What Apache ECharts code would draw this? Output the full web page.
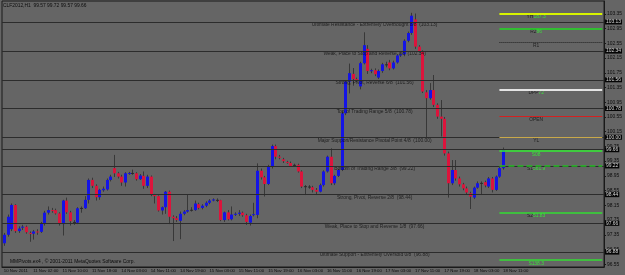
<!DOCTYPE html>
<html>
<head>
<meta charset="utf-8">
<script src="https://cdn.jsdelivr.net/npm/echarts@6/dist/echarts.min.js"></script>
<style>
  html, body { margin: 0; padding: 0; background: #656565; }
  #chart { width: 625px; height: 275px; }
</style>
</head>
<body>
<div id="chart"></div>
<script>
// hourly sessions shown on the chart (day, first hour, last hour)
const sessions = [
  ['10 Nov', 18, 23], ['11 Nov', 0, 22], ['14 Nov', 0, 23], ['15 Nov', 0, 23],
  ['16 Nov', 0, 23], ['17 Nov', 0, 23], ['18 Nov', 0, 11]
];
const tickLabels = [
  '10 Nov 2011', '11 Nov 02:00', '11 Nov 10:00', '11 Nov 18:00', '14 Nov 03:00', '14 Nov 11:00',
  '14 Nov 19:00', '15 Nov 03:00', '15 Nov 11:00', '15 Nov 19:00', '16 Nov 03:00', '16 Nov 11:00',
  '16 Nov 19:00', '17 Nov 03:00', '17 Nov 11:00', '17 Nov 19:00', '18 Nov 03:00', '18 Nov 11:00'
];
const priceTicks = [96.55, 96.95, 97.35, 97.75, 98.15, 98.55, 98.95, 99.35, 99.75, 100.15,
  100.55, 100.95, 101.35, 101.75, 102.15, 102.55, 102.95, 103.35];

// open, close, low, high
const candles = [
  [97.12, 97.35, 97.05, 97.40], [97.35, 97.84, 97.30, 97.90], [97.50, 98.16, 97.45, 98.20], [98.16, 97.45, 97.40, 98.18],
  [97.45, 97.52, 97.40, 97.58], [97.55, 97.57, 97.48, 97.62], [97.57, 97.42, 97.38, 97.60], [97.40, 97.38, 97.16, 97.44],
  [97.38, 97.44, 97.22, 97.48], [97.44, 97.42, 97.35, 97.50], [97.43, 97.66, 97.40, 97.70], [97.66, 97.95, 97.60, 98.00],
  [97.95, 98.02, 97.90, 98.12], [98.02, 98.00, 97.95, 98.08], [98.02, 97.93, 97.90, 98.06], [97.93, 97.66, 97.60, 97.96],
  [97.64, 98.28, 97.33, 98.30], [98.28, 97.96, 97.92, 98.36], [97.96, 97.72, 97.60, 98.00], [97.70, 97.70, 97.62, 97.75],
  [97.68, 98.07, 97.64, 98.10], [98.07, 98.08, 97.95, 98.12], [98.07, 98.30, 98.05, 98.40], [98.30, 98.84, 98.20, 98.88],
  [98.84, 98.68, 98.62, 98.90], [98.68, 98.37, 98.28, 98.72], [98.37, 98.57, 98.30, 98.60], [98.56, 98.60, 98.52, 98.66],
  [98.58, 98.84, 98.55, 98.88], [98.84, 98.93, 98.80, 98.98], [99.16, 99.02, 98.92, 99.52], [99.02, 98.93, 98.88, 99.06],
  [98.93, 98.77, 98.68, 98.98], [98.77, 99.02, 98.66, 99.05], [99.01, 99.03, 98.98, 99.06], [99.02, 99.03, 98.98, 99.12],
  [99.02, 98.86, 98.82, 99.05], [98.86, 98.96, 98.84, 99.00], [98.95, 98.68, 98.60, 99.07], [98.68, 98.93, 98.62, 98.98],
  [98.93, 98.43, 98.40, 98.96], [98.43, 98.40, 98.20, 98.46], [98.40, 98.01, 97.98, 98.42], [98.01, 98.10, 97.90, 98.12],
  [98.10, 98.52, 97.92, 98.54], [98.52, 97.84, 97.64, 98.55], [97.84, 97.80, 97.18, 97.88], [97.80, 97.75, 97.70, 97.86],
  [97.73, 97.92, 97.23, 97.98], [97.92, 97.98, 97.88, 98.02], [97.98, 98.02, 97.95, 98.45], [98.02, 98.03, 97.98, 98.10],
  [98.02, 98.20, 98.00, 98.28], [98.18, 98.08, 98.04, 98.22], [98.08, 98.14, 98.04, 98.18], [98.14, 98.22, 98.10, 98.26],
  [98.22, 98.28, 98.18, 98.32], [98.28, 98.31, 98.26, 98.34], [98.30, 98.29, 98.24, 98.34], [98.29, 97.75, 97.72, 98.30],
  [97.75, 97.96, 97.70, 97.98], [97.96, 97.77, 97.74, 98.02], [97.77, 97.90, 97.74, 98.12], [97.90, 97.92, 97.86, 97.96],
  [97.92, 97.95, 97.86, 98.02], [97.95, 97.88, 97.84, 97.98], [97.88, 97.70, 97.62, 97.92], [97.68, 97.86, 97.60, 97.90],
  [97.89, 97.91, 97.85, 98.22], [97.89, 99.09, 97.80, 99.29], [99.09, 98.91, 98.85, 99.15], [98.91, 98.73, 98.39, 98.95],
  [98.73, 99.20, 98.70, 99.25], [99.20, 99.76, 99.15, 99.80], [99.76, 99.47, 99.40, 99.80], [99.47, 99.45, 99.40, 99.52],
  [99.40, 99.35, 99.30, 99.44], [99.33, 99.31, 99.28, 99.36], [99.30, 99.22, 99.20, 99.34], [99.24, 99.25, 99.20, 99.28],
  [99.25, 99.07, 99.04, 99.28], [99.07, 98.66, 98.62, 99.10], [98.66, 98.67, 98.43, 98.70], [98.66, 98.65, 98.60, 98.70],
  [98.64, 98.57, 98.50, 98.68], [98.57, 98.52, 98.43, 98.62], [98.52, 98.70, 98.50, 98.74], [98.70, 99.07, 98.66, 99.10],
  [99.07, 99.47, 99.04, 99.50], [99.47, 98.75, 98.70, 99.70], [98.75, 98.95, 98.70, 98.98], [98.95, 99.11, 98.92, 99.14],
  [99.11, 100.65, 99.08, 100.70], [100.65, 101.51, 100.60, 101.55], [101.51, 101.74, 101.19, 102.00], [101.72, 101.58, 101.40, 101.88],
  [101.58, 101.56, 101.50, 101.62], [101.38, 102.01, 101.30, 102.05], [102.01, 102.50, 101.98, 102.85], [102.40, 101.80, 101.72, 102.50],
  [101.80, 101.82, 101.74, 101.86], [101.82, 101.71, 101.66, 101.87], [101.62, 101.80, 101.58, 101.84], [101.80, 101.98, 101.75, 102.02],
  [101.98, 101.97, 101.90, 102.05], [102.03, 101.87, 101.82, 102.10], [101.87, 102.03, 101.84, 102.08], [102.03, 102.22, 102.00, 102.26],
  [102.22, 102.25, 102.18, 102.33], [102.25, 102.62, 102.20, 102.66], [102.62, 102.83, 102.58, 102.87], [102.83, 103.30, 102.78, 103.38],
  [103.20, 102.46, 102.40, 103.36], [102.46, 102.34, 102.30, 102.50], [102.34, 101.24, 101.20, 102.36], [101.22, 101.06, 99.97, 101.28],
  [101.06, 101.28, 101.02, 101.47], [101.28, 100.88, 100.82, 101.69], [100.88, 100.56, 100.50, 100.92], [100.56, 100.50, 100.02, 101.01],
  [100.50, 99.56, 99.50, 100.55], [99.56, 98.75, 98.36, 99.61], [98.75, 99.11, 98.70, 99.38], [99.11, 98.88, 98.82, 99.38],
  [98.88, 98.72, 98.66, 98.93], [98.72, 98.61, 98.56, 98.76], [98.61, 98.50, 98.45, 98.66], [98.48, 98.39, 98.05, 98.52],
  [98.36, 98.63, 98.32, 98.66], [98.63, 98.75, 98.60, 98.80], [98.75, 98.76, 98.43, 98.80], [98.78, 98.69, 98.64, 98.82],
  [98.66, 98.88, 98.62, 98.92], [98.88, 98.57, 98.50, 98.92], [98.57, 98.93, 98.54, 98.96], [98.93, 99.16, 98.90, 99.20],
  [99.16, 99.66, 99.12, 99.72]
];

// Murrey Math levels
const murreyLevels = [103.13, 102.34, 101.56, 100.78, 100.00, 99.22, 98.44, 97.66, 96.88];
const murreyNames = [
  'Ultimate Resistance - Extremely Overbought 8/8', 'Weak, Place to Stop and Reverse 7/8',
  'Strong, Pivot, Reverse 6/8', 'Top of Trading Range 5/8', 'Major Support/Resistance Pivotal Point 4/8',
  'Bottom of Trading Range 3/8', 'Strong, Pivot, Reverse 2/8', 'Weak, Place to Stop and Reverse 1/8',
  'Ultimate Support - Extremely Oversold 0/8'
];
const bidPrice = 99.66;

// daily pivot lines on the right
const pivotNames = ['YH', 'R2', 'R1', 'DPP', 'OPEN', 'YL', '', 'S1', 'S2', ''];
const pivotTags = ['187.3', '86', '', '72', '', '', 'S08', '561.9', '51.83', 'S138.3'];
const pivotLevels = [103.35, 102.95, 102.58, 101.28, 100.56, 99.99, 99.62, 99.22, 97.95, 96.66];
const pivotColors = ['#d8f400', '#22dd22', '#1e1e1e', '#e4e4e4', '#d42020', '#c9a94a', '#33ee33', '#22bb22', '#33dd33', '#33dd33'];
const pivotTypes = ['solid', 'solid', 'dotted', 'solid', 'solid', 'solid', 'solid', 'dashed', 'solid', 'solid'];
const pivotWidths = [2, 1.5, 1, 2, 1.2, 1.2, 1.5, 1.5, 1.5, 1.5];

const categories = [];
sessions.forEach(([day, h0, h1]) => {
  for (let h = h0; h <= h1; h++) categories.push(day + ' ' + String(h).padStart(2, '0') + ':00');
});
const lastBar = categories.length - 1;
while (categories.length < 164) categories.push('');

const FONT = 'Liberation Sans';
const FS = 4.9;
const INK = '#0c0c0c';
const chart = echarts.init(document.getElementById('chart'));

const option = {
  backgroundColor: '#656565',
  animation: false,
  title: {
    text: 'CLF2012,H1  99.57 99.72 99.57 99.66',
    left: 3, top: 3, padding: 0,
    textStyle: { fontSize: FS, color: INK, fontWeight: 'normal', fontFamily: FONT }
  },
  graphic: [{
    type: 'text', left: 10, top: 259,
    style: { text: 'MMPivots.ex4 , \u00a9 2001-2011 MetaQuotes Software Corp.', fill: INK, font: FS + 'px ' + FONT }
  }],
  grid: { left: 2, right: 18, top: 1, bottom: 8, show: true, borderColor: '#1a1a1a', borderWidth: 1 },
  xAxis: {
    type: 'category',
    data: categories,
    boundaryGap: true,
    axisLine: { lineStyle: { color: '#1a1a1a' } },
    axisTick: { alignWithLabel: true, length: 2, lineStyle: { color: '#1a1a1a' }, interval: (i) => i % 8 === 0 && i <= lastBar },
    axisLabel: {
      interval: (i) => i % 8 === 0 && i <= lastBar,
      formatter: (v, i) => tickLabels[i / 8] || '',
      align: 'left', margin: 2, fontSize: 4.3, color: INK, fontFamily: FONT
    },
    splitLine: { show: false }
  },
  yAxis: {
    type: 'value',
    position: 'right',
    min: 96.475, max: 103.70,
    axisLine: { show: true, lineStyle: { color: '#1a1a1a' } },
    axisTick: { show: true, length: 2, customValues: priceTicks, lineStyle: { color: '#1a1a1a' } },
    axisLabel: {
      customValues: priceTicks, formatter: (v) => v.toFixed(2),
      margin: 3, fontSize: FS, color: INK, fontFamily: FONT
    },
    splitLine: { show: false }
  },
  series: [
    {
      type: 'line', data: [], silent: true,
      markLine: {
        symbol: ['none', 'none'], silent: true,
        lineStyle: { color: '#2c2c2c', width: 1, type: 'solid' },
        label: {
          show: true, position: 'end', distance: 1, backgroundColor: '#050505', color: '#d8d8d8',
          padding: [0, 1], fontSize: FS, fontFamily: FONT, formatter: (p) => p.value.toFixed(2)
        },
        data: murreyLevels.concat([bidPrice]).map((v) => ({ yAxis: v }))
      }
    },
    {
      type: 'line', data: [], silent: true,
      markLine: {
        symbol: ['none', 'none'], silent: true, label: { show: false },
        data: pivotLevels.map((v, i) => [
          { coord: [135, v], lineStyle: { color: pivotColors[i], width: pivotWidths[i], type: pivotTypes[i] } },
          { coord: [163, v] }
        ])
      }
    },
    {
      type: 'custom',
      z: 3,
      data: candles.map((c, i) => [i, c[0], c[1], c[2], c[3]]),
      encode: { x: 0, y: [1, 2, 3, 4] },
      renderItem: (params, api) => {
        const x = api.value(0), o = api.value(1), c = api.value(2), l = api.value(3), h = api.value(4);
        const pO = api.coord([x, o]), pC = api.coord([x, c]);
        const pL = api.coord([x, l]), pH = api.coord([x, h]);
        const cx = Math.round(pO[0]) + 0.5;
        const top = Math.min(pO[1], pC[1]);
        const hgt = Math.max(1, Math.abs(pO[1] - pC[1]));
        const up = c > o, flat = Math.abs(c - o) < 0.015;
        return {
          type: 'group',
          children: [
            { type: 'line', shape: { x1: cx, y1: pH[1], x2: cx, y2: pL[1] }, style: { stroke: '#383838', lineWidth: 1 } },
            {
              type: 'rect', shape: { x: cx - 1.5, y: top, width: 3, height: hgt },
              style: { fill: flat ? '#2a2a2a' : (up ? '#1414e6' : '#dc143c') }
            }
          ]
        };
      }
    },
    {
      type: 'scatter', symbolSize: 0, silent: true, z: 4,
      data: murreyLevels.map((v) => [101, v]),
      label: {
        show: true, position: 'bottom', distance: 0.5, fontSize: FS, color: INK, fontFamily: FONT,
        formatter: (p) => murreyNames[p.dataIndex] + '  (' + murreyLevels[p.dataIndex].toFixed(2) + ')'
      }
    },
    {
      type: 'scatter', symbolSize: 0, silent: true, z: 4,
      data: pivotLevels.map((v) => [145, v]),
      label: {
        show: true, position: 'bottom', distance: 0.5, fontSize: FS, fontFamily: FONT,
        formatter: (p) => '{n|' + pivotNames[p.dataIndex] + '}{g|' + pivotTags[p.dataIndex] + '}',
        rich: {
          n: { color: INK, fontSize: FS, fontFamily: FONT },
          g: { color: '#33ff33', fontSize: FS, fontFamily: FONT }
        }
      }
    }
  ]
};
chart.setOption(option);
</script>
</body>
</html>
